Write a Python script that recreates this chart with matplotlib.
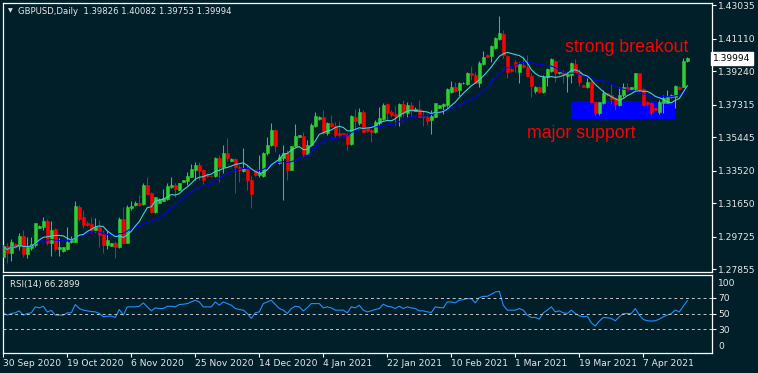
import numpy as np
import pandas as pd
import matplotlib
matplotlib.use("Agg")
import matplotlib.pyplot as plt

# GBPUSD daily bars, 30 Sep 2020 .. 20 Apr 2021
opens = [
    1.2858, 1.2920, 1.2881, 1.2931, 1.2920, 1.2977, 1.2874, 1.2906, 1.2925, 1.3025,
    1.3031, 1.3065, 1.2935, 1.3017, 1.2904, 1.2892, 1.2902, 1.2941, 1.2944, 1.3142,
    1.3085, 1.3053, 1.3046, 1.3012, 1.3027, 1.2989, 1.2925, 1.2921, 1.2939, 1.2915,
    1.3075, 1.2939, 1.3138, 1.3157, 1.3167, 1.3161, 1.3270, 1.3226, 1.3117, 1.3168,
    1.3180, 1.3190, 1.3261, 1.3270, 1.3242, 1.3289, 1.3295, 1.3315, 1.3357, 1.3385,
    1.3357, 1.3328, 1.3324, 1.3322, 1.3424, 1.3372, 1.3456, 1.3410, 1.3418, 1.3372,
    1.3353, 1.3366, 1.3299, 1.3361, 1.3328, 1.3322, 1.3452, 1.3500, 1.3587, 1.3398,
    1.3424, 1.3456, 1.3357, 1.3494, 1.3548, 1.3552, 1.3449, 1.3500, 1.3610, 1.3648,
    1.3660, 1.3568, 1.3628, 1.3610, 1.3568, 1.3568, 1.3564, 1.3506, 1.3660, 1.3625,
    1.3692, 1.3596, 1.3587, 1.3577, 1.3625, 1.3648, 1.3734, 1.3690, 1.3679, 1.3667,
    1.3736, 1.3683, 1.3730, 1.3697, 1.3707, 1.3667, 1.3663, 1.3644, 1.3663, 1.3715,
    1.3725, 1.3730, 1.3807, 1.3832, 1.3817, 1.3857, 1.3851, 1.3913, 1.3903, 1.3859,
    1.3966, 1.4018, 1.4012, 1.4056, 1.4108, 1.4139, 1.4012, 1.3936, 1.3977, 1.3922,
    1.3960, 1.3951, 1.3897, 1.3811, 1.3834, 1.3807, 1.3893, 1.3928, 1.3985, 1.3913,
    1.3922, 1.3897, 1.3903, 1.3966, 1.3922, 1.3845, 1.3835, 1.3864, 1.3745, 1.3683,
    1.3740, 1.3798, 1.3788, 1.3769, 1.3730, 1.3788, 1.3832, 1.3821, 1.3821, 1.3913,
    1.3821, 1.3749, 1.3740, 1.3711, 1.3692, 1.3740, 1.3744, 1.3778, 1.3778, 1.3835,
    1.3835, 1.39826,
]
highs = [
    1.2950, 1.2935, 1.2958, 1.2939, 1.2993, 1.3012, 1.2970, 1.2970, 1.3053, 1.3039,
    1.3085, 1.3073, 1.3065, 1.3021, 1.2964, 1.2915, 1.3027, 1.2977, 1.3180, 1.3153,
    1.3127, 1.3063, 1.3085, 1.3079, 1.3069, 1.3012, 1.3008, 1.2935, 1.2950, 1.3085,
    1.3142, 1.3155, 1.3180, 1.3178, 1.3213, 1.3280, 1.3318, 1.3232, 1.3199, 1.3194,
    1.3246, 1.3280, 1.3318, 1.3283, 1.3283, 1.3299, 1.3347, 1.3391, 1.3404, 1.3404,
    1.3361, 1.3337, 1.3328, 1.3433, 1.3443, 1.3500, 1.3539, 1.3424, 1.3424, 1.3385,
    1.3481, 1.3391, 1.3322, 1.3365, 1.3443, 1.3462, 1.3548, 1.3628, 1.3591, 1.3449,
    1.3500, 1.3472, 1.3494, 1.3621, 1.3558, 1.3577, 1.3529, 1.3625, 1.3692, 1.3667,
    1.3702, 1.3634, 1.3673, 1.3634, 1.3640, 1.3569, 1.3569, 1.3673, 1.3706, 1.3711,
    1.3702, 1.3602, 1.3591, 1.3644, 1.3720, 1.3740, 1.3740, 1.3702, 1.3725, 1.3740,
    1.3759, 1.3749, 1.3749, 1.3717, 1.3759, 1.3702, 1.3679, 1.3702, 1.3744, 1.3730,
    1.3744, 1.3826, 1.3870, 1.3864, 1.3864, 1.3863, 1.3922, 1.3954, 1.3922, 1.3985,
    1.4042, 1.4024, 1.4075, 1.4123, 1.4242, 1.4162, 1.4018, 1.3941, 1.3989, 1.3979,
    1.4012, 1.4018, 1.3913, 1.3842, 1.3840, 1.3903, 1.3941, 1.4001, 1.3989, 1.3922,
    1.3932, 1.3920, 1.3979, 1.3993, 1.3936, 1.3848, 1.3884, 1.3874, 1.3749, 1.3749,
    1.3817, 1.3802, 1.3851, 1.3778, 1.3835, 1.3855, 1.3859, 1.3835, 1.3916, 1.3916,
    1.3826, 1.3755, 1.3749, 1.3713, 1.3759, 1.3788, 1.3817, 1.3791, 1.3845, 1.3840,
    1.4001, 1.40082,
]
lows = [
    1.2829, 1.2820, 1.2835, 1.2906, 1.2897, 1.2855, 1.2849, 1.2897, 1.2915, 1.3021,
    1.3012, 1.2925, 1.2862, 1.2892, 1.2862, 1.2887, 1.2897, 1.2935, 1.2944, 1.3065,
    1.3021, 1.3035, 1.2993, 1.3002, 1.2915, 1.2881, 1.2901, 1.2917, 1.2852, 1.2906,
    1.2931, 1.2935, 1.3127, 1.3150, 1.3151, 1.3155, 1.3213, 1.3108, 1.3111, 1.3165,
    1.3177, 1.3184, 1.3251, 1.3199, 1.3242, 1.3288, 1.3270, 1.3315, 1.3299, 1.3299,
    1.3276, 1.3315, 1.3315, 1.3315, 1.3289, 1.3337, 1.3410, 1.3407, 1.3226, 1.3289,
    1.3347, 1.3242, 1.3136, 1.3322, 1.3319, 1.3315, 1.3443, 1.3494, 1.3462, 1.3391,
    1.3184, 1.3299, 1.3357, 1.3490, 1.3547, 1.3433, 1.3443, 1.3494, 1.3606, 1.3644,
    1.3564, 1.3558, 1.3606, 1.3548, 1.3548, 1.3561, 1.3472, 1.3500, 1.3587, 1.3615,
    1.3571, 1.3578, 1.3519, 1.3571, 1.3615, 1.3644, 1.3640, 1.3663, 1.3615, 1.3610,
    1.3663, 1.3660, 1.3660, 1.3694, 1.3660, 1.3610, 1.3615, 1.3564, 1.3660, 1.3711,
    1.3679, 1.3720, 1.3798, 1.3807, 1.3782, 1.3851, 1.3845, 1.3874, 1.3855, 1.3835,
    1.3960, 1.4005, 1.3979, 1.4051, 1.4104, 1.4001, 1.3884, 1.3922, 1.3920, 1.3859,
    1.3941, 1.3890, 1.3778, 1.3802, 1.3802, 1.3801, 1.3840, 1.3922, 1.3864, 1.3909,
    1.3855, 1.3807, 1.3859, 1.3913, 1.3840, 1.3834, 1.3826, 1.3740, 1.3673, 1.3673,
    1.3736, 1.3785, 1.3736, 1.3702, 1.3725, 1.3778, 1.3812, 1.3817, 1.3817, 1.3807,
    1.3725, 1.3725, 1.3673, 1.3699, 1.3679, 1.3686, 1.3740, 1.3773, 1.3711, 1.3817,
    1.3832, 1.39753,
]
closes = [
    1.2920, 1.2878, 1.2941, 1.2912, 1.2977, 1.2874, 1.2915, 1.2931, 1.3050, 1.3035,
    1.3063, 1.2935, 1.3012, 1.2901, 1.2915, 1.2912, 1.2941, 1.2954, 1.3150, 1.3073,
    1.3040, 1.3040, 1.3012, 1.3027, 1.2981, 1.2925, 1.2954, 1.2935, 1.2912, 1.3075,
    1.2939, 1.3142, 1.3150, 1.3168, 1.3157, 1.3270, 1.3219, 1.3117, 1.3199, 1.3190,
    1.3194, 1.3265, 1.3269, 1.3247, 1.3283, 1.3299, 1.3322, 1.3362, 1.3385, 1.3353,
    1.3299, 1.3324, 1.3320, 1.3424, 1.3372, 1.3452, 1.3424, 1.3420, 1.3372, 1.3357,
    1.3366, 1.3299, 1.3219, 1.3328, 1.3339, 1.3452, 1.3500, 1.3587, 1.3494, 1.3430,
    1.3456, 1.3357, 1.3494, 1.3552, 1.3558, 1.3449, 1.3500, 1.3615, 1.3667, 1.3660,
    1.3571, 1.3625, 1.3610, 1.3558, 1.3558, 1.3562, 1.3509, 1.3667, 1.3640, 1.3692,
    1.3577, 1.3583, 1.3577, 1.3634, 1.3657, 1.3730, 1.3686, 1.3673, 1.3667, 1.3736,
    1.3686, 1.3730, 1.3697, 1.3709, 1.3663, 1.3660, 1.3640, 1.3667, 1.3740, 1.3730,
    1.3734, 1.3821, 1.3832, 1.3812, 1.3855, 1.3859, 1.3913, 1.3901, 1.3859, 1.3973,
    1.4008, 1.4008, 1.4070, 1.4117, 1.4146, 1.4018, 1.3922, 1.3928, 1.3954, 1.3966,
    1.3951, 1.3897, 1.3840, 1.3834, 1.3808, 1.3893, 1.3936, 1.3993, 1.3916, 1.3922,
    1.3903, 1.3909, 1.3970, 1.3916, 1.3864, 1.3835, 1.3864, 1.3745, 1.3683, 1.3749,
    1.3801, 1.3788, 1.3763, 1.3736, 1.3788, 1.3835, 1.3817, 1.3835, 1.3913, 1.3817,
    1.3730, 1.3736, 1.3692, 1.3702, 1.3749, 1.3769, 1.3782, 1.3788, 1.3840, 1.3821,
    1.3985, 1.39994,
]
rsi = [
    50.9, 47.9, 50.0, 50.9, 53.4, 47.9, 50.0, 50.9, 58.5, 57.2,
    59.3, 52.0, 54.0, 48.0, 47.9, 47.9, 50.9, 50.9, 61.5, 56.4,
    54.3, 53.4, 52.5, 52.1, 50.0, 45.8, 46.6, 46.6, 44.9, 55.1,
    47.9, 58.5, 58.5, 58.5, 59.3, 63.6, 58.5, 53.4, 57.2, 56.4,
    56.4, 59.3, 59.3, 58.5, 61.5, 61.9, 62.7, 64.8, 67.0, 64.8,
    58.5, 58.5, 58.5, 64.8, 60.6, 64.8, 62.7, 60.6, 56.4, 55.1,
    54.3, 50.0, 43.7, 50.9, 52.1, 62.7, 64.8, 67.0, 61.5, 56.4,
    54.3, 50.0, 56.4, 59.3, 58.5, 53.4, 57.2, 62.7, 62.7, 62.7,
    57.2, 58.5, 57.2, 54.3, 54.3, 54.3, 50.9, 58.5, 57.2, 60.6,
    54.3, 52.1, 53.4, 55.1, 56.4, 61.9, 59.3, 58.5, 56.4, 59.3,
    56.4, 58.5, 57.2, 56.4, 53.4, 53.4, 52.1, 51.3, 58.5, 57.6,
    57.2, 64.8, 64.8, 63.6, 67.0, 67.8, 69.1, 69.1, 63.6, 70.3,
    72.0, 72.0, 74.6, 77.5, 78.4, 60.6, 54.3, 54.3, 54.3, 56.4,
    54.3, 47.9, 44.9, 44.9, 42.8, 50.9, 54.3, 58.5, 52.1, 53.4,
    50.9, 50.0, 54.3, 50.0, 47.0, 45.8, 46.6, 38.1, 33.9, 40.3,
    44.9, 44.5, 43.7, 40.7, 45.8, 50.0, 50.0, 50.0, 56.4, 47.9,
    42.4, 40.7, 40.3, 40.7, 42.8, 45.8, 47.9, 50.0, 54.3, 52.1,
    59.3, 66.29,
]
date_labels = ['30 Sep 2020', '19 Oct 2020', '6 Nov 2020', '25 Nov 2020',
               '14 Dec 2020', '4 Jan 2021', '22 Jan 2021', '10 Feb 2021',
               '1 Mar 2021', '19 Mar 2021', '7 Apr 2021']
price_ticks = [1.43035, 1.41110, 1.39240, 1.37315, 1.35445,
               1.33520, 1.31650, 1.29725, 1.27855]

bg = '#001f29'
fg = '#e8e8e8'
up_col = '#32cd32'
dn_col = '#ff0000'

df = pd.DataFrame({'o': opens, 'h': highs, 'l': lows, 'c': closes})
n = len(df)
x = np.arange(n)
ma_fast = df['c'].rolling(8, min_periods=1).mean()
ma_slow = df['c'].rolling(16, min_periods=1).mean()

W, H = 758, 373
fig = plt.figure(figsize=(W / 100, H / 100), dpi=100, facecolor=bg)
ax = fig.add_axes([2.5 / W, 1 - 272 / H, 709 / W, 269.5 / H], facecolor=bg)
ax2 = fig.add_axes([2.5 / W, 1 - 352.5 / H, 709 / W, 78 / H], facecolor=bg)

for a in (ax, ax2):
    for s in a.spines.values():
        s.set_color('white')
        s.set_linewidth(0.9)
    a.set_xlim(-0.2, 177.05)

# support zone
ax.add_patch(plt.Rectangle((141.9, 1.36498), 26.0, 1.37533 - 1.36498,
                           facecolor='#0000ff', edgecolor='none', zorder=1))

cols = [up_col if c >= o else dn_col for o, c in zip(df['o'], df['c'])]
ax.vlines(x, df['l'], df['h'], colors=cols, linewidth=0.75, zorder=2)
body_lo = np.minimum(df['o'], df['c'])
body_h = np.abs(df['c'] - df['o'])
ax.bar(x, body_h, bottom=body_lo, width=0.7, color=cols, edgecolor=cols,
       linewidth=0.4, zorder=3)

ax.plot(x, ma_slow, color='#0000ff', linewidth=0.8, zorder=4)
ax.plot(x, ma_fast, color='#48d1cc', linewidth=0.8, zorder=5)

ax.set_ylim(1.2770, 1.4320)
ax.set_xticks([])
ax.yaxis.tick_right()
ax.set_yticks(price_ticks)
ax.set_yticklabels(['%.5f' % p for p in price_ticks])
ax.tick_params(axis='y', colors='white', labelcolor=fg, labelsize=6.6,
               length=3, width=0.8, pad=2)

ax.text(1.002, closes[-1], '%.5f' % closes[-1], transform=ax.get_yaxis_transform(),
        ha='left', va='center', fontsize=6.6, color='black',
        bbox=dict(facecolor='white', edgecolor='white', pad=1.6))

fig.text(10 / W, 1 - 11 / H, '\u25bc', fontsize=4.5, color=fg, ha='center', va='center')
fig.text(18 / W, 1 - 11 / H,
         'GBPUSD,Daily  %.5f %.5f %.5f %.5f' % (opens[-1], highs[-1], lows[-1], closes[-1]),
         fontsize=6.1, color=fg, ha='left', va='center')

fig.text(565 / W, 1 - 48 / H, 'strong breakout', fontsize=12.8, color='#ff0000',
         family='Liberation Sans', ha='left', va='center')
fig.text(527 / W, 1 - 134 / H, 'major support', fontsize=12.8, color='#ff0000',
         family='Liberation Sans', ha='left', va='center')

# RSI window
ax2.plot(x, rsi, color='#1e90ff', linewidth=0.8)
for lvl in (30, 50, 70):
    ax2.axhline(lvl, color='#c8c8c8', linewidth=0.7, linestyle=(0, (3, 3)))
ax2.set_ylim(0, 100)
ax2.yaxis.tick_right()
ax2.set_yticks([9.5, 30, 50, 70, 90])
ax2.set_yticklabels(['0', '30', '50', '70', '100'])
ax2.tick_params(axis='y', colors='white', labelcolor=fg, labelsize=6.6,
                length=3, width=0.8, pad=2)
for i in (0, 4):
    ax2.yaxis.get_major_ticks()[i].tick2line.set_visible(False)
ax2.text(7 / 709, 0.87, 'RSI(14) %.4f' % 66.2899, transform=ax2.transAxes,
         fontsize=6.2, color=fg, ha='left', va='center')

ax2.set_xticks(np.arange(0, n, 16))
ax2.set_xticklabels(date_labels, ha='left')
ax2.tick_params(axis='x', colors='white', labelcolor=fg, labelsize=6.6,
                length=3, width=0.8, pad=2)

fig.savefig('out.png', dpi=100, facecolor=bg)
